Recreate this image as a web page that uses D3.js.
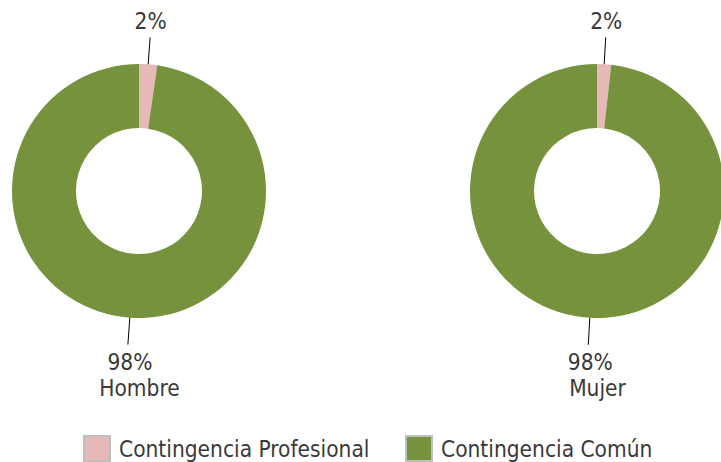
<!DOCTYPE html>
<html>
<head>
<meta charset="utf-8">
<script src="https://cdn.jsdelivr.net/npm/d3@7"></script>
<style>
html,body{margin:0;padding:0;background:#fff;overflow:hidden;}
svg text{font-family:"Liberation Sans Narrow","DejaVu Sans Condensed",sans-serif;fill:#3a3a3a;}
</style>
</head>
<body>
<svg id="chart" width="721" height="462"></svg>
<script>
const categories = ["Contingencia Profesional", "Contingencia Común"];
const groups = ["Hombre", "Mujer"];
const hombre = [2.3, 97.7];
const mujer = [1.8, 98.2];
const colors = ["#E6B9B8", "#76923C"];

const series = [hombre, mujer];
const svg = d3.select("#chart");
const cx = d3.scaleOrdinal().domain(groups).range([139, 597]);
const cy = 191, rOut = 127, rIn = 63, rLine = 154;
const fs = 22.5;

const pie = d3.pie().sort(null).value(d => d.v);
const arc = d3.arc().innerRadius(rIn).outerRadius(rOut);
const onOuter = d3.arc().innerRadius(rOut).outerRadius(rOut);
const onLine = d3.arc().innerRadius(rLine).outerRadius(rLine);

groups.forEach((g, gi) => {
  const data = series[gi].map((v, i) => ({v, c: categories[i], i}));
  const gr = svg.append("g").attr("transform", `translate(${cx(g)},${cy})`);
  const arcs = pie(data);
  gr.selectAll("path.slice").data(arcs).join("path")
    .attr("class", "slice")
    .attr("d", arc)
    .attr("fill", d => colors[d.data.i]);
  arcs.forEach(a => {
    const p0 = onOuter.centroid(a);
    const p1 = onLine.centroid(a);
    gr.append("line")
      .attr("x1", p0[0]).attr("y1", p0[1])
      .attr("x2", p1[0]).attr("y2", p1[1])
      .attr("stroke", "#000").attr("stroke-width", 1);
    const top = p1[1] < 0;
    gr.append("text")
      .attr("x", p1[0] + (top ? 0.5 : 2))
      .attr("y", top ? p1[1] - 8 : p1[1] + 25.5)
      .attr("text-anchor", "middle")
      .attr("font-size", fs)
      .text(Math.round(a.data.v) + "%");
  });
  gr.append("text")
    .attr("x", 0.5)
    .attr("y", 396 - cy)
    .attr("text-anchor", "middle")
    .attr("font-size", fs)
    .text(g);
});

// legend
const lx = [83, 405];
categories.forEach((c, i) => {
  const lg = svg.append("g").attr("transform", `translate(${lx[i]},435)`);
  lg.append("rect").attr("x", 1).attr("y", 1).attr("width", 26).attr("height", 25)
    .attr("fill", colors[i]).attr("stroke", "#BFBFBF").attr("stroke-width", 2);
  lg.append("text").attr("x", 36).attr("y", 22).attr("font-size", fs).text(c);
});
</script>
</body>
</html>
